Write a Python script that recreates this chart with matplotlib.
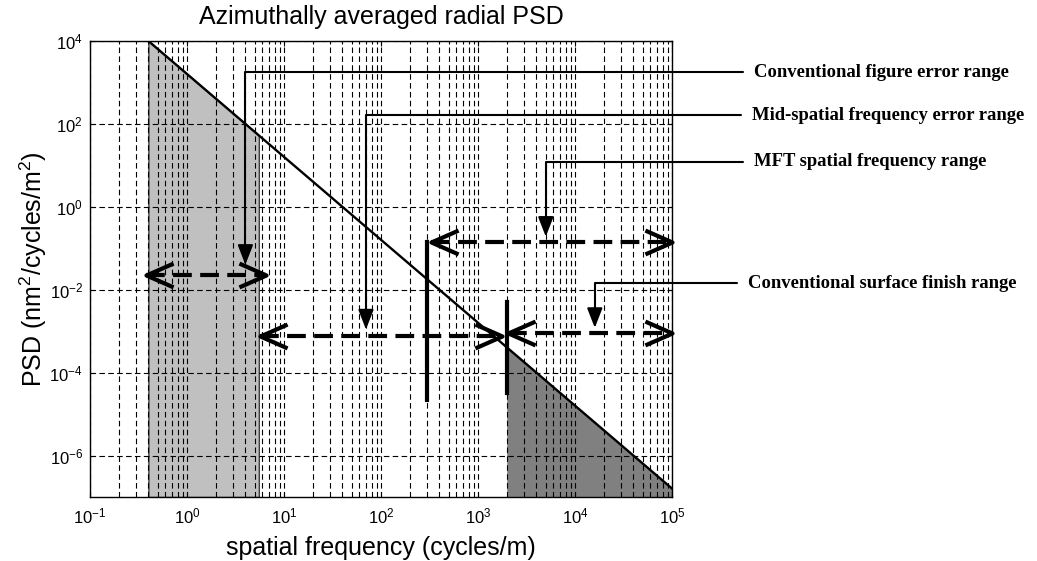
import matplotlib
matplotlib.use("Agg")
import matplotlib.pyplot as plt
from matplotlib.path import Path
from matplotlib.ticker import LogLocator, NullLocator

plt.rcParams['font.family'] = 'Liberation Sans'
plt.rcParams['mathtext.default'] = 'regular'
plt.rcParams['axes.unicode_minus'] = False

# PSD curve (straight line in log-log)
freq = [0.4, 1e5]
psd = [1e4, 1.6e-7]

# shaded bands under the curve
figure_band_f = [0.4, 5.5]
figure_band_psd = [1e4, 53]
finish_band_f = [2000, 1e5]
finish_band_psd = [4e-4, 1.6e-7]

# dashed double arrows: start, end, level
range_start = [0.38, 5.7, 330, 2050]
range_end = [6.6, 1750, 1e5, 1e5]
range_level = [0.023, 7.8e-4, 0.145, 9.1e-4]

# thick vertical markers
marker_f = [300, 2000]
marker_low = [2.2e-5, 3.3e-5]
marker_high = [0.145, 5.1e-3]

# callouts
labels = ["Conventional figure error range",
          "Mid-spatial frequency error range",
          "MFT spatial frequency range",
          "Conventional surface finish range"]
label_tip_f = [4, 70, 5000, 16000]
label_tip_psd = [0.04, 1.1e-3, 0.19, 1.2e-3]
label_x = [754, 752, 754, 748]
label_y = [72, 115, 162, 283]

x_ticks = [1e-1, 1e0, 1e1, 1e2, 1e3, 1e4, 1e5]
y_ticks = [1e-6, 1e-4, 1e-2, 1e0, 1e2, 1e4]

fig = plt.figure(figsize=(10.37, 5.61), dpi=100)
ax = fig.add_axes([90 / 1037, 1 - 497 / 561, 582 / 1037, 456 / 561])
ax.set_xscale('log')
ax.set_yscale('log')
ax.set_xlim(0.1, 1e5)
ax.set_ylim(1e-7, 1e4)

ax.fill_between(figure_band_f, figure_band_psd, 1e-7, facecolor='#c0c0c0',
                edgecolor='#404040', lw=1)
ax.fill_between(finish_band_f, finish_band_psd, 1e-7, facecolor='#808080',
                edgecolor='none')
ax.plot(freq, psd, color='k', lw=1.7, zorder=3)

for f, lo, hi in zip(marker_f, marker_low, marker_high):
    ax.plot([f, f], [lo, hi], color='k', lw=3, zorder=4)

left_head = Path([(1, 0.44), (0, 0), (1, -0.44)],
                 [Path.MOVETO, Path.LINETO, Path.LINETO])
right_head = Path([(-1, 0.44), (0, 0), (-1, -0.44)],
                  [Path.MOVETO, Path.LINETO, Path.LINETO])
for a, b, lev in zip(range_start, range_end, range_level):
    ax.plot([a, b], [lev, lev], color='k', lw=3, ls=(0, (4.5, 2)), zorder=4)
    ax.plot([a], [lev], marker=left_head, ms=39, mew=3, mfc='none', mec='k',
            zorder=4, clip_on=False)
    ax.plot([b], [lev], marker=right_head, ms=39, mew=3, mfc='none', mec='k',
            zorder=4, clip_on=False)

for txt, tf, tp, lx, ly in zip(labels, label_tip_f, label_tip_psd, label_x, label_y):
    ax.annotate(txt, xy=(tf, tp), xycoords='data',
                xytext=(lx / 1037, 1 - ly / 561), textcoords='figure fraction',
                ha='left', va='center', fontsize=13.4, fontweight='bold',
                family='Liberation Serif', annotation_clip=False, zorder=5,
                arrowprops=dict(arrowstyle='-|>,head_length=0.9,head_width=0.35',
                                connectionstyle='angle,angleA=180,angleB=90,rad=0',
                                relpos=(0, 0.5), shrinkA=6, shrinkB=0,
                                lw=1.5, color='k'))

ax.set_xticks(x_ticks)
ax.set_yticks(y_ticks)
ax.yaxis.set_minor_locator(NullLocator())
ax.xaxis.set_minor_locator(LogLocator(base=10, subs=range(2, 10), numticks=20))
ax.grid(True, which='major', color='k', lw=0.8, ls=(0, (5, 3)))
ax.grid(True, which='minor', axis='x', color='k', lw=0.8, ls=(0, (5, 3)))
ax.tick_params(which='both', direction='in', top=True, right=True, labelsize=12)
ax.tick_params(axis='x', pad=7)
ax.tick_params(axis='y', pad=5)
for s in ax.spines.values():
    s.set_linewidth(1)

ax.set_title('Azimuthally averaged radial PSD', fontsize=18, pad=12)
ax.set_xlabel('spatial frequency (cycles/m)', fontsize=18, labelpad=7)
ax.set_ylabel('PSD (nm$^2$/cycles/m$^2$)', fontsize=18, labelpad=0)

fig.savefig('out.png', dpi=100)
